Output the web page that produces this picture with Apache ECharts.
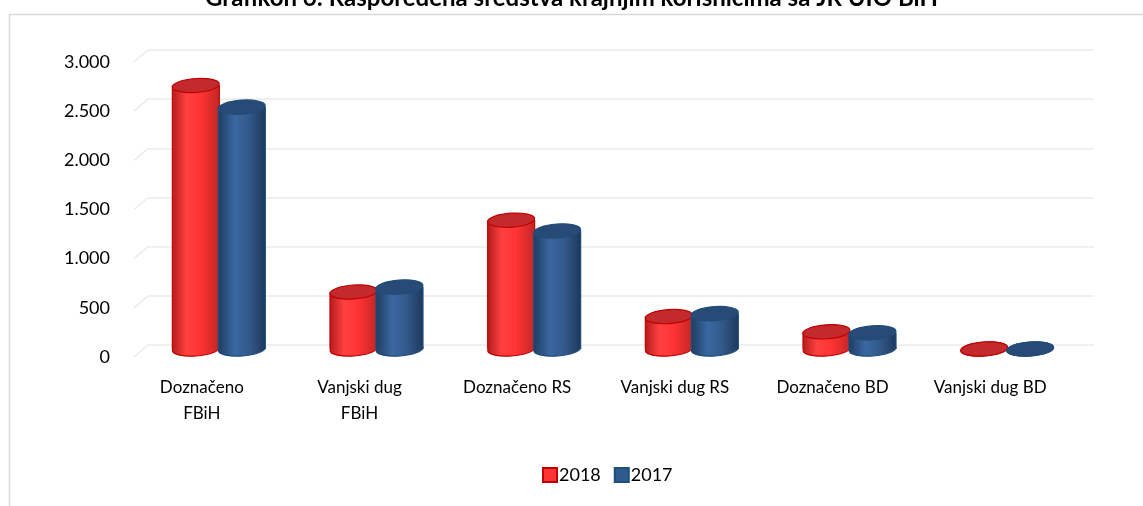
<!DOCTYPE html>
<html>
<head>
<meta charset="utf-8">
<title>Grafikon 6</title>
<script src="https://cdn.jsdelivr.net/npm/echarts@6/dist/echarts.min.js"></script>
<style>
  html, body { margin: 0; padding: 0; background: #fff; }
  #chart { width: 1143px; height: 506px; }
</style>
</head>
<body>
<div id="chart"></div>
<script>
// podaci
var categories = ['Doznačeno\nFBiH', 'Vanjski dug\nFBiH', 'Doznačeno RS', 'Vanjski dug RS', 'Doznačeno BD', 'Vanjski dug BD'];
var values2018 = [2680, 580, 1310, 330, 175, 0];
var values2017 = [2460, 630, 1200, 360, 165, 0];
var yTicks = [0, 500, 1000, 1500, 2000, 2500, 3000];

var FONT = 'Lato, "Noto Sans", sans-serif';

// izgled valjaka
var redStyle = {
  body: new echarts.graphic.LinearGradient(0, 0, 1, 0, [
    { offset: 0, color: '#b51c1c' },
    { offset: 0.3, color: '#ff4040' },
    { offset: 0.6, color: '#ff3333' },
    { offset: 1, color: '#c42626' }
  ]),
  cap: '#c22a2e',
  line: '#c00000',
  offset: -31
};
var blueStyle = {
  body: new echarts.graphic.LinearGradient(0, 0, 1, 0, [
    { offset: 0, color: '#1e3d63' },
    { offset: 0.35, color: '#3a67a1' },
    { offset: 0.65, color: '#33598b' },
    { offset: 1, color: '#1d395c' }
  ]),
  cap: '#284a77',
  line: '#1f4e79',
  offset: 15
};

function cylinder(st) {
  return function (params, api) {
    var idx = api.value(0);
    var base = api.coord([idx, 0]);
    var top = api.coord([idx, api.value(1)]);
    var w = 47, rx = w / 2, ry = 7, shift = 4;
    var cx = base[0] + st.offset;
    var yb = base[1] + shift;
    var yt = top[1] + shift;
    var rot = 0.07;
    var children = [
      { type: 'ellipse', shape: { cx: cx, cy: yb, rx: rx, ry: ry }, rotation: rot, originX: cx, originY: yb,
        style: { fill: st.body, stroke: st.line, lineWidth: 1.2 } },
      { type: 'rect', shape: { x: cx - rx, y: yt, width: w, height: yb - yt }, style: { fill: st.body } },
      { type: 'line', shape: { x1: cx - rx, y1: yt, x2: cx - rx, y2: yb }, style: { stroke: st.line, lineWidth: 1.2 } },
      { type: 'line', shape: { x1: cx + rx, y1: yt, x2: cx + rx, y2: yb }, style: { stroke: st.line, lineWidth: 1.2 } },
      { type: 'ellipse', shape: { cx: cx, cy: yt, rx: rx, ry: ry }, rotation: rot, originX: cx, originY: yt,
        style: { fill: st.cap, stroke: st.line, lineWidth: 1.2 } }
    ];
    return { type: 'group', children: children };
  };
}

// bocni zid uz mrezu
function wallLine(params, api) {
  var y = api.coord([0, api.value(0)])[1];
  var x0 = params.coordSys.x;
  return { type: 'line', shape: { x1: x0 - 14, y1: y + 12, x2: x0, y2: y },
    style: { stroke: '#ebebeb', lineWidth: 1.5 }, silent: true };
}

var myChart = echarts.init(document.getElementById('chart'));
var option = {
  backgroundColor: '#fff',
  animation: false,
  title: {
    text: 'Grafikon 6: Raspoređena sredstva krajnjim korisnicima sa JR UIO BiH',
    left: 'center',
    top: -19,
    textStyle: { fontFamily: FONT, fontSize: 24, fontWeight: 'bold', color: '#000' }
  },
  graphic: [{
    type: 'rect', shape: { x: 9.5, y: 14.5, width: 1200, height: 600 },
    style: { fill: 'none', stroke: '#d9d9d9', lineWidth: 1.5 }, silent: true, z: -1
  }],
  legend: {
    data: ['2018', '2017'],
    bottom: 17,
    left: 537,
    icon: 'rect',
    itemWidth: 14,
    itemHeight: 14,
    itemGap: 13,
    textStyle: { fontFamily: FONT, fontSize: 18, color: '#000', padding: [0, 0, 0, -3] }
  },
  grid: { left: 148, right: 49, top: 50, bottom: 161 },
  xAxis: {
    type: 'category',
    data: categories,
    axisLine: { show: false },
    axisTick: { show: false },
    axisLabel: {
      margin: 30, interval: 0, color: '#000', fontFamily: FONT, fontSize: 17, lineHeight: 26,
      padding: [0, 50, 0, 0]
    }
  },
  yAxis: {
    type: 'value',
    min: 0, max: 3000, interval: 500,
    axisLine: { show: false },
    axisTick: { show: false },
    splitLine: { lineStyle: { color: '#ebebeb', width: 1.5 } },
    axisLabel: {
      margin: 38, color: '#000', fontFamily: FONT, fontSize: 18,
      verticalAlign: 'top', lineHeight: 24,
      formatter: function (v) { return String(v).replace(/\B(?=(\d{3})+(?!\d))/g, '.'); }
    }
  },
  series: [
    {
      name: 'wall', type: 'custom', renderItem: wallLine, silent: true,
      data: yTicks.map(function (t) { return [t]; }), encode: { y: 0 }, z: 1
    },
    {
      name: '2018', type: 'custom', renderItem: cylinder(redStyle),
      itemStyle: { color: '#ff3333', borderColor: '#c00000', borderWidth: 1 },
      data: values2018.map(function (v, i) { return [i, v]; }), encode: { x: 0, y: 1 }, z: 2
    },
    {
      name: '2017', type: 'custom', renderItem: cylinder(blueStyle),
      itemStyle: { color: '#2f5a8e', borderColor: '#1f4e79', borderWidth: 1 },
      data: values2017.map(function (v, i) { return [i, v]; }), encode: { x: 0, y: 1 }, z: 3
    }
  ]
};
myChart.setOption(option);
</script>
</body>
</html>
